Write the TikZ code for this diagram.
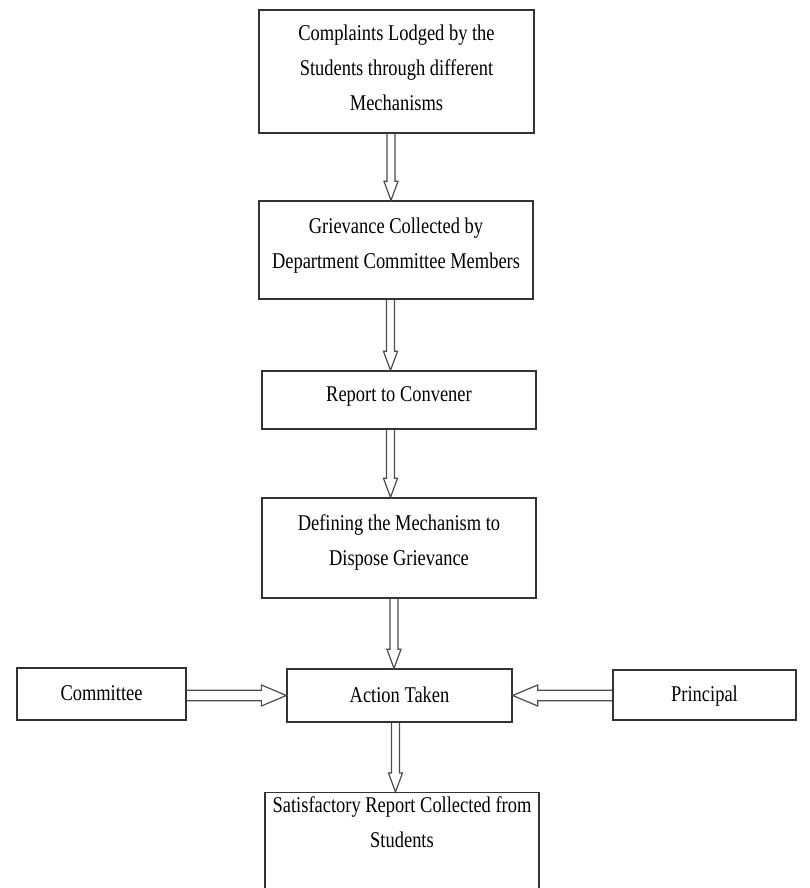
\documentclass[tikz,border=0pt]{standalone}
\usepackage{fontspec}
\setmainfont{Liberation Serif}[FakeStretch=0.82]
\usetikzlibrary{calc}

% centred block of lines, lifted by #1 while keeping its original extent
\newcommand\boxtext[2]{\raisebox{#1}[\height][\depth]{\begin{tabular}{@{}c@{}}#2\end{tabular}}}

% hollow block arrow pointing down, from the bottom of #1 to the top of #2,
% shifted sideways by #3 (pt) from the centre of #1
\newcommand\flowdown[3]{%
  \draw[flowline] let \p1=($(#1.south)+(#3pt,0)$), \p2=(#2.north) in
    ({\x1-4pt},\y1) -- ({\x1-4pt},{\y2+19pt}) -- ({\x1-7pt},{\y2+19pt})
    -- (\x1,\y2) -- ({\x1+7pt},{\y2+19pt}) -- ({\x1+4pt},{\y2+19pt})
    -- ({\x1+4pt},\y1);}

% hollow block arrow pointing right, from #1 to #2
\newcommand\flowright[2]{%
  \draw[flowline] let \p1=(#1.east), \p2=(#2.west) in
    (\x1,{\y2+5.3pt}) -- ({\x2-25pt},{\y2+5.3pt}) -- ({\x2-25pt},{\y2+10.5pt})
    -- (\x2,\y2) -- ({\x2-25pt},{\y2-10.5pt}) -- ({\x2-25pt},{\y2-5.3pt})
    -- (\x1,{\y2-5.3pt});}

% hollow block arrow pointing left, from #1 to #2
\newcommand\flowleft[2]{%
  \draw[flowline] let \p1=(#1.west), \p2=(#2.east) in
    (\x1,{\y2+5.3pt}) -- ({\x2+25pt},{\y2+5.3pt}) -- ({\x2+25pt},{\y2+10.5pt})
    -- (\x2,\y2) -- ({\x2+25pt},{\y2-10.5pt}) -- ({\x2+25pt},{\y2-5.3pt})
    -- (\x1,{\y2-5.3pt});}

\begin{document}
\begin{tikzpicture}[x=1pt,y=1pt,
  box/.style={draw=black!80, line width=1.3pt, fill=white, inner sep=0pt,
    font=\fontsize{22.5}{35}\selectfont},
  flowline/.style={draw=black!70, line width=1.2pt, line join=miter}]
\useasboundingbox (0,0) rectangle (810,888);
\clip (0,0) rectangle (810,888);

% main chain of steps
\node[box, minimum width=275pt, minimum height=123pt] (b1) at (396.5,816.5)
  {\boxtext{2.5pt}{Complaints Lodged by the\\Students through different\\Mechanisms}};
\node[box, minimum width=274pt, minimum height=98pt] (b2) at (396,638)
  {\boxtext{5.5pt}{Grievance Collected by\\Department Committee Members}};
\node[box, minimum width=274pt, minimum height=58pt] (b3) at (399,488)
  {\boxtext{5pt}{Report to Convener}};
\node[box, minimum width=274pt, minimum height=100pt] (b4) at (399,340)
  {\boxtext{6.5pt}{Defining the Mechanism to\\Dispose Grievance}};
\node[box, minimum width=225pt, minimum height=53pt] (act) at (399.5,192.5)
  {\boxtext{0pt}{Action Taken}};
\node[box, minimum width=169pt, minimum height=52pt] (com) at (101.5,194)
  {\boxtext{0pt}{Committee}};
\node[box, minimum width=183pt, minimum height=50pt] (pri) at (704.5,193)
  {\boxtext{0pt}{Principal}};
\node[box, minimum width=274pt, minimum height=150pt, anchor=north] (b6) at (402,96)
  {\boxtext{44.5pt}{Satisfactory Report Collected from\\Students}};

% connectors
\flowdown{b1}{b2}{-5.5}
\flowdown{b2}{b3}{-5.5}
\flowdown{b3}{b4}{-8.5}
\flowdown{b4}{act}{-5}
\flowdown{act}{b6}{-4}
\flowright{com}{act}
\flowleft{pri}{act}
\end{tikzpicture}
\end{document}
